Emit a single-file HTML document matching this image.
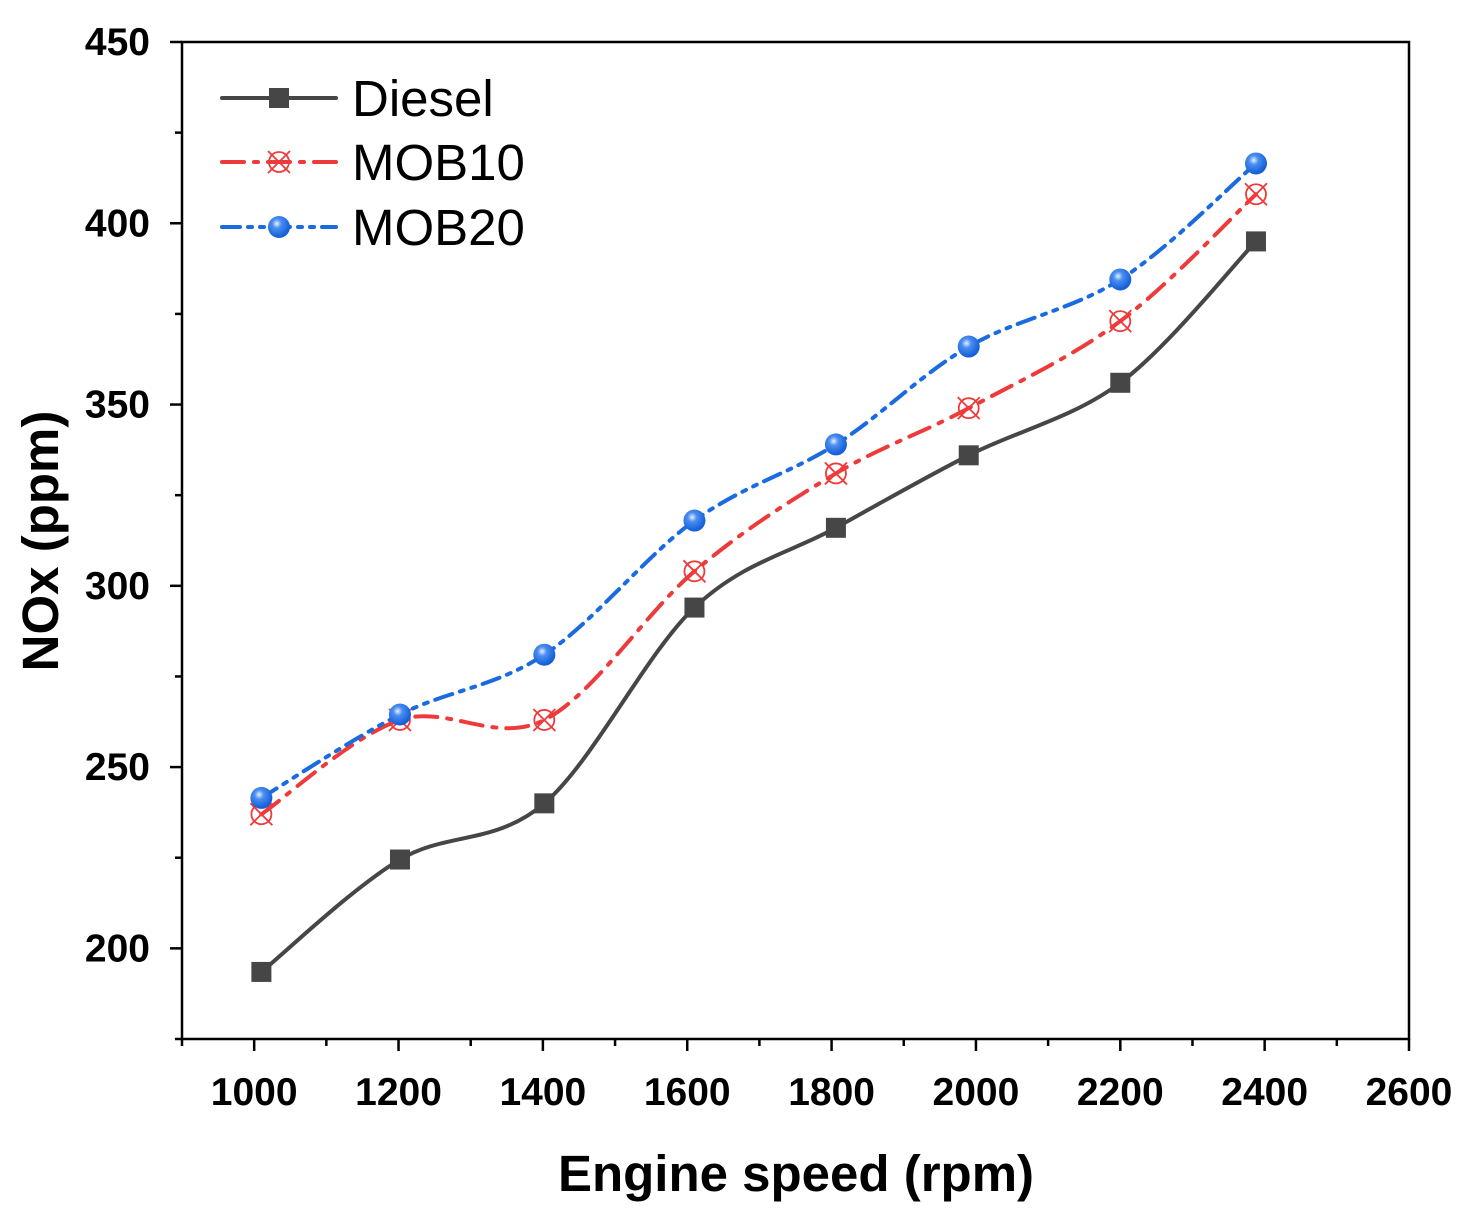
<!DOCTYPE html>
<html><head><meta charset="utf-8"><style>
body{margin:0;background:#fff}
svg text{font-family:"Liberation Sans",Arial,sans-serif}
</style></head><body>
<svg id="chart" width="1478" height="1218" xmlns="http://www.w3.org/2000/svg">
<defs>
<radialGradient id="ball" cx="0.4" cy="0.35" r="0.6">
<stop offset="0" stop-color="#e8f0ff"/><stop offset="0.35" stop-color="#4a8ef0"/><stop offset="1" stop-color="#1560d8"/>
</radialGradient>
</defs>
<g id="axes"></g>
<g id="series"></g>
<g id="legend"></g>
</svg>
<script>
const speeds=[1010,1202,1402,1610,1806,1990,2200,2388];
const diesel=[193.5,224.5,240,294,316,336,356,395];
const mob10=[237,263,263,304,331,349,373,408];
const mob20=[241.5,264.5,281,318,339,366,384.5,416.5];
const xTicks=[1000,1200,1400,1600,1800,2000,2200,2400,2600];
const yTicks=[200,250,300,350,400,450];
const NS="http://www.w3.org/2000/svg";
const L=182,R=1409,T=42,B=1039,xmin=900,xmax=2600,ymin=175,ymax=450;
const sx=v=>L+(v-xmin)/(xmax-xmin)*(R-L);
const sy=v=>B-(v-ymin)/(ymax-ymin)*(B-T);
function mk(tag,attrs,parent){const e=document.createElementNS(NS,tag);for(const k in attrs)e.setAttribute(k,attrs[k]);parent.appendChild(e);return e;}
const axes=document.getElementById('axes');
const frame=mk('rect',{x:L,y:T,width:R-L,height:B-T,fill:'none',stroke:'#000','stroke-width':2.5},axes);


xTicks.forEach((v,i)=>{
 const x=sx(v);
 const t=mk('line',{x1:x,x2:x,y1:B,y2:B+12,stroke:'#000','stroke-width':2.5},axes);
 
 
 if(i<xTicks.length-1){mk('line',{x1:sx(v+100),x2:sx(v+100),y1:B,y2:B+7,stroke:'#000','stroke-width':2.5},axes);}
 const lb=mk('text',{x:x,y:B+66,'text-anchor':'middle','font-size':39,'font-weight':'bold'},axes);lb.textContent=v;
 
 
});
mk('line',{x1:sx(900),x2:sx(900),y1:B,y2:B+7,stroke:'#000','stroke-width':2.5},axes);
yTicks.forEach(v=>{
 const y=sy(v);
 const t=mk('line',{x1:L-12,x2:L,y1:y,y2:y,stroke:'#000','stroke-width':2.5},axes);
 
 
 const lb=mk('text',{x:L-32,y:y+13,'text-anchor':'end','font-size':39,'font-weight':'bold'},axes);lb.textContent=v;
 
 
});
[175,225,275,325,375,425].forEach(v=>mk('line',{x1:L-7,x2:L,y1:sy(v),y2:sy(v),stroke:'#000','stroke-width':2.5},axes));
const xt=mk('text',{x:796,y:1191,'text-anchor':'middle','font-size':51,'font-weight':'bold'},axes);xt.textContent='Engine speed (rpm)';


const yt=mk('text',{x:0,y:0,'text-anchor':'middle','font-size':51,'font-weight':'bold',transform:'translate(58,541) rotate(-90)'},axes);yt.textContent='NOx (ppm)';



function spline(xs,ys){
 const p=xs.map((x,i)=>[sx(x),sy(ys[i])]);
 let d=`M${p[0][0]},${p[0][1]}`;
 for(let i=0;i<p.length-1;i++){
  const p0=p[i-1]||p[i],p1=p[i],p2=p[i+1],p3=p[i+2]||p[i+1];
  const c1=[p1[0]+(p2[0]-p0[0])/6,p1[1]+(p2[1]-p0[1])/6];
  const c2=[p2[0]-(p3[0]-p1[0])/6,p2[1]-(p3[1]-p1[1])/6];
  d+=` C${c1[0]},${c1[1]} ${c2[0]},${c2[1]} ${p2[0]},${p2[1]}`;
 }
 return d;
}
const sg=document.getElementById('series');
const defs=[
 {name:'diesel',data:diesel,color:'#464646',dash:'',marker:'square'},
 {name:'mob10',data:mob10,color:'#ee3a3a',dash:'22 10 4 10',marker:'cross'},
 {name:'mob20',data:mob20,color:'#1a6be0',dash:'18 8 4 8 4 8',marker:'ball'}
];
function drawMarker(kind,x,y,color,g){
 let m;
 if(kind==='square'){m=mk('rect',{x:x-10,y:y-10,width:20,height:20,fill:'#464646'},g);}
 else if(kind==='cross'){m=mk('g',{},g);
  mk('circle',{cx:x,cy:y,r:10,fill:'none',stroke:color,'stroke-width':1.8},m);
  mk('line',{x1:x-11,y1:y-11,x2:x+11,y2:y+11,stroke:color,'stroke-width':1.8},m);
  mk('line',{x1:x-11,y1:y+11,x2:x+11,y2:y-11,stroke:color,'stroke-width':1.8},m);}
 else {m=mk('circle',{cx:x,cy:y,r:11,fill:'url(#ball)'},g);}
 return m;
}
defs.forEach(s=>{
 const g=mk('g',{},sg);
 
 
 const p=mk('path',{d:spline(speeds,s.data),fill:'none',stroke:s.color,'stroke-width':4,'stroke-dasharray':s.dash,'stroke-linecap':'round'},g);
 
 
 speeds.forEach((x,i)=>{
  const m=drawMarker(s.marker,sx(x),sy(s.data[i]),s.color,g);
  
  
 });
});
const lg=document.getElementById('legend');


[['Diesel',98],['MOB10',162],['MOB20',227]].forEach((e,i)=>{
 const s=defs[i];
 const g=mk('g',{},lg);
 
 
 mk('line',{x1:222,x2:336,y1:e[1],y2:e[1],stroke:s.color,'stroke-width':4,'stroke-dasharray':s.dash,'stroke-linecap':'round'},g);
 drawMarker(s.marker,279,e[1],s.color,g);
 const t=mk('text',{x:352,y:e[1]+18,'font-size':51},g);t.textContent=e[0];
});
</script>
</body></html>
